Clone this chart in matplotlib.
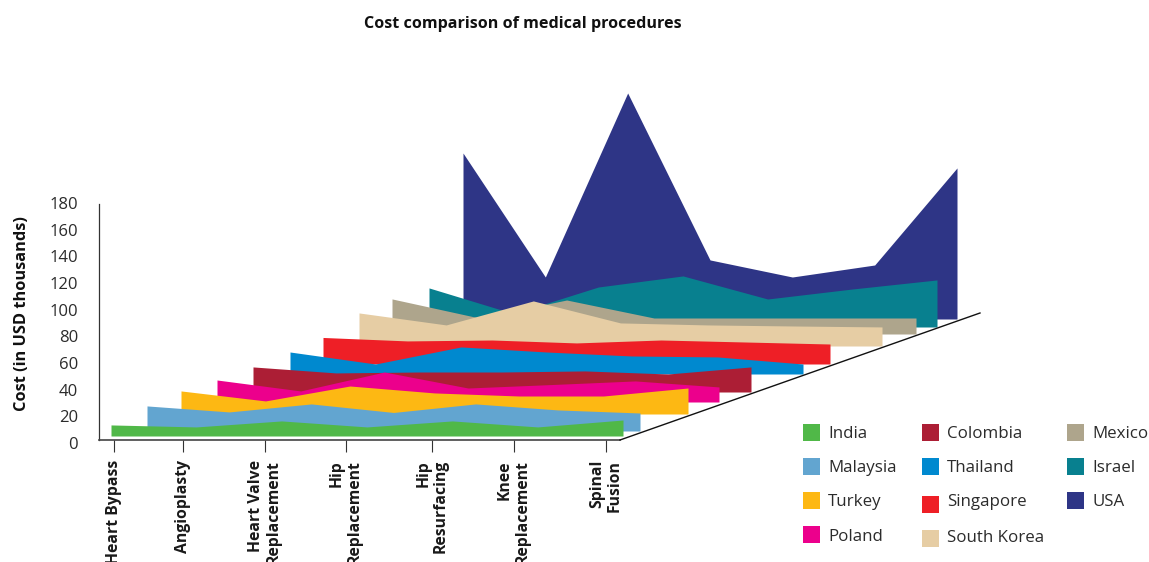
import matplotlib
matplotlib.use("Agg")
import matplotlib.pyplot as plt
from matplotlib.patches import Rectangle
from matplotlib.transforms import Affine2D
import numpy as np

plt.rcParams["font.family"] = ["Open Sans", "DejaVu Sans"]

procedures = ["Heart Bypass", "Angioplasty", "Heart Valve\nReplacement", "Hip\nReplacement",
              "Hip\nResurfacing", "Knee\nReplacement", "Spinal\nFusion"]
countries = ["India", "Malaysia", "Turkey", "Poland", "Colombia", "Thailand",
             "Singapore", "South Korea", "Mexico", "Israel", "USA"]

india = [8.3, 6.8, 11.3, 6.8, 11.3, 6.8, 12]
malaysia = [18.8, 14.3, 20.3, 13.9, 20.3, 15.8, 13.5]
turkey = [17.3, 9.8, 21, 15.8, 13.5, 13.5, 19.5]
poland = [16.5, 8.3, 22.5, 10.5, 13.1, 15.8, 11.3]
colombia = [18.8, 14.3, 15, 15, 15.8, 13.5, 18.8]
thailand = [16.5, 7.5, 20.3, 16.5, 13.5, 12.8, 7.5]
singapore = [19.9, 17.3, 18, 15.8, 18, 16.5, 15]
south_korea = [24.8, 15.8, 33.8, 17.3, 15.8, 15, 14.3]
mexico = [26.3, 12, 25.5, 12, 12, 12, 12]
israel = [29.3, 10, 30, 38.3, 21, 28.5, 35.3]
usa = [124.5, 31.5, 169.5, 44.3, 31.5, 40.5, 113.3]
costs = [india, malaysia, turkey, poland, colombia, thailand,
         singapore, south_korea, mexico, israel, usa]

colors = ["#50B848", "#62A5D0", "#FDB813", "#EC008C", "#AC1E35", "#0089CF",
          "#EE1F26", "#E6CDA4", "#AEA58C", "#08808F", "#2E3586"]

# receding layout of the layers, in figure pixels from the top left
layer_left = [111, 147, 181, 217, 253, 290, 323, 359, 392, 429, 463]
layer_right = [623, 640, 688, 719, 751, 803, 830, 882, 916, 937, 957]
layer_base = [436, 431, 414, 402, 392, 374, 364, 346, 334, 327, 319]

W, H = 1149, 562
X0, X_STEP = 111, 512 / 6      # pixel of category 0, pixels per category
Y0, Y_STEP = 443, 240 / 180    # pixel of cost 0, pixels per thousand

fig = plt.figure(figsize=(W / 100, H / 100), dpi=100)
ax = fig.add_axes([99 / W, 1 - Y0 / H, (620 - 99) / W, (Y0 - 203) / H])

x = np.arange(len(procedures))
# back layers first so the front ones cover them
for i in reversed(range(len(countries))):
    shift = Affine2D().scale((layer_right[i] - layer_left[i]) / 6 / X_STEP, 1) \
        .translate((layer_left[i] - X0) / X_STEP, (Y0 - layer_base[i]) / Y_STEP)
    ax.fill_between(x, costs[i], 0, color=colors[i], linewidth=0,
                    transform=shift + ax.transData, clip_on=False)
ax.set_xlim((99 - X0) / X_STEP, (620 - X0) / X_STEP)
ax.set_ylim(0, 180)

# floor edge running back from the end of the x axis
fig.add_artist(plt.Line2D([620 / W, 980 / W], [1 - 440 / H, 1 - 313 / H], color="#111111", lw=1.0))

for s in ["top", "right"]:
    ax.spines[s].set_visible(False)
axis_floor = (Y0 - 440) / Y_STEP
ax.spines["bottom"].set_position(("data", axis_floor))
ax.spines["left"].set_bounds(axis_floor, 179)
ax.spines["bottom"].set_color("#444444")
ax.spines["bottom"].set_linewidth(1.2)
ax.spines["left"].set_color("#333333")
ax.spines["left"].set_linewidth(0.9)

ax.set_yticks(np.arange(0, 181, 20))
ax.tick_params(axis="y", length=0, pad=15, labelsize=12, labelcolor="#2b2b2b")
tick_pos = [0.04, 0.84, 1.80, 2.75, 3.76, 4.72, 5.80]
ax.set_xticks(tick_pos)
ax.set_xticklabels(procedures, rotation=90, ha="center", va="top", ma="right",
                   fontsize=11.3, fontweight="bold", color="#1a1a1a", linespacing=1.12)
ax.tick_params(axis="x", length=8.6, width=0.8, color="#333333", pad=5.8)

fig.text(523 / W, 1 - 23.5 / H, "Cost comparison of medical procedures", ha="center", va="center",
         fontsize=11.6, fontweight="bold", color="#111111")
fig.text(22 / W, 1 - 314 / H, "Cost (in USD thousands)", rotation=90, ha="center", va="center",
         fontsize=11.8, fontweight="bold", color="#111111")

# legend, three columns
swatch_x = [803] * 4 + [922] * 4 + [1067] * 3
text_x = [828] * 4 + [947] * 4 + [1092] * 3
swatch_y = [432.5, 466.5, 500.5, 534.5, 432.5, 466.5, 504.5, 538.5, 432.5, 466.5, 500.5]
text_y = [434, 468, 502, 537, 434, 468, 502, 538, 434, 468, 502]
for i, name in enumerate(countries):
    fig.add_artist(Rectangle((swatch_x[i] / W, 1 - (swatch_y[i] + 8.5) / H), 17 / W, 17 / H,
                             transform=fig.transFigure, color=colors[i], lw=0))
    fig.text(text_x[i] / W, 1 - text_y[i] / H, name, ha="left", va="center",
             fontsize=12.2, color="#2b2b2b")

fig.savefig("out.png", dpi=100)
